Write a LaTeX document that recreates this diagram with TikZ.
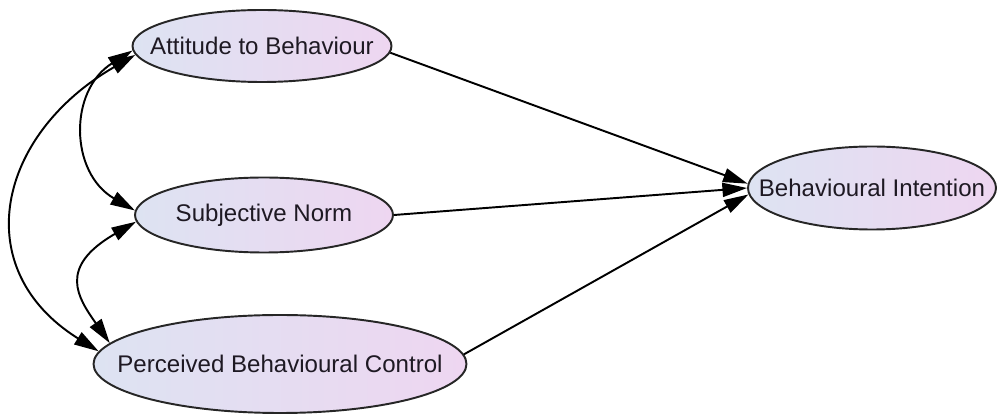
\documentclass[tikz,border=0pt]{standalone}
\usepackage{fontspec}
\setmainfont{Liberation Sans}
\usetikzlibrary{shapes.geometric,arrows.meta}
\definecolor{shadeleft}{RGB}{221,227,242}
\definecolor{shaderight}{RGB}{238,214,241}
\definecolor{textgray}{RGB}{30,25,35}
\newcommand{\ellipsetext}[1]{\makebox[0pt]{#1}}

\begin{document}
\begin{tikzpicture}[line width=1.1pt,
  latent/.style={ellipse,draw=black!85,line width=1.1pt,left color=shadeleft,right color=shaderight,inner sep=0pt,text=textgray,font=\fontsize{13.7}{16}\selectfont},
  path/.style={-{Triangle[length=14pt,width=8pt]}},
  covar/.style={{Triangle[length=14pt,width=8pt]}-{Triangle[length=14pt,width=8pt]}}]
\useasboundingbox (0,0) rectangle (19.96,8.34);

\node[latent,minimum width=5.18cm,minimum height=1.44cm] (ATB) at (5.24,7.42) {\ellipsetext{Attitude to Behaviour}};
\node[latent,minimum width=5.16cm,minimum height=1.5cm] (SN) at (5.28,4.04) {\ellipsetext{Subjective Norm}};
\node[latent,minimum width=7.46cm,minimum height=1.96cm] (PBC) at (5.6,1.06) {\ellipsetext{Perceived Behavioural Control}};
\node[latent,minimum width=4.96cm,minimum height=1.66cm] (BI) at (17.44,4.58) {\ellipsetext{Behavioural Intention}};

\foreach \from/\a/\b in {ATB/357/178, SN/0/180, PBC/3/183}
{
\draw[path] (\from.\a) -- (BI.\b);
}

\draw[covar] (ATB.184) to[out=210,in=148,out distance=3.2cm,in distance=3.1cm] (PBC.176);
\draw[covar] (ATB.182) to[out=212,in=150,out distance=1.51cm,in distance=1.51cm] (SN.178);
\draw[covar] (SN.183) to[out=210,in=125,out distance=1.82cm,in distance=1.11cm] (PBC.173);
\end{tikzpicture}
\end{document}
